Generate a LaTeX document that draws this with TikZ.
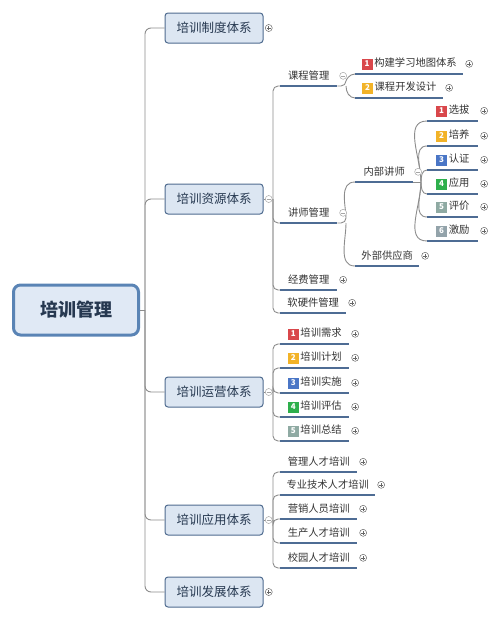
\documentclass[tikz,border=0pt]{standalone}
\usepackage{fontspec}
\setmainfont{Noto Sans CJK SC}
\usepackage{tikz}
\usetikzlibrary{positioning}

\definecolor{fondRacine}{HTML}{E0E9F5}
\definecolor{bordRacine}{HTML}{5A84B5}
\definecolor{fondNoeud}{HTML}{DCE6F2}
\definecolor{bordNoeud}{HTML}{4F6B8F}
\definecolor{texteNoeud}{HTML}{263850}
\definecolor{liens}{HTML}{8C8C8C}
\definecolor{souligne}{HTML}{4E6C94}
\definecolor{rouge}{HTML}{D9474B}
\definecolor{jaune}{HTML}{F2B328}
\definecolor{bleu}{HTML}{4A76C6}
\definecolor{vert}{HTML}{2EAF4C}
\definecolor{gris}{HTML}{8FAAA3}
\definecolor{ardoise}{HTML}{93A3AA}

\newcommand{\pastille}[2]{{\setlength{\fboxsep}{1.5pt}\colorbox{#1}{\rule[-1.5pt]{0pt}{7.5pt}\makebox[8pt]{\fontsize{8}{8}\selectfont\bfseries\color{white}#2}}}}

\begin{document}
\begin{tikzpicture}[x=1pt,y=-1pt]
	\tikzstyle{racine}=[rectangle,draw=bordRacine,line width=3pt,fill=fondRacine,
	rounded corners=7pt,minimum width=125pt,minimum height=50pt,text=texteNoeud,
	font=\fontsize{18}{20}\selectfont\bfseries]
	\tikzstyle{systeme}=[rectangle,draw=bordNoeud,line width=1pt,fill=fondNoeud,
	rounded corners=3pt,minimum width=98pt,minimum height=30pt,text=texteNoeud,
	font=\fontsize{12.5}{14}\selectfont]
	\tikzstyle{sujet}=[anchor=south west,inner xsep=0pt,inner ysep=3pt,
	minimum height=20pt,text=black!80,font=\fontsize{10.3}{12}\selectfont]
	\tikzstyle{plus}=[circle,draw=black!60,fill=white,inner sep=0pt,minimum size=7pt,
	line width=0.5pt,path picture={\draw[black!60,line width=0.6pt]
	([xshift=-2pt]path picture bounding box.center) -- ([xshift=2pt]path picture bounding box.center)
	([yshift=-2pt]path picture bounding box.center) -- ([yshift=2pt]path picture bounding box.center);}]
	\tikzstyle{moins}=[circle,draw=black!35,fill=white,inner sep=0pt,minimum size=7pt,
	line width=0.5pt,path picture={\draw[black!35,line width=0.6pt]
	([xshift=-2pt]path picture bounding box.center) -- ([xshift=2pt]path picture bounding box.center);}]

	\useasboundingbox (0,0) rectangle (500,621);

	\node[racine] (root) at (76,310) {培训管理};

	\node[systeme] (s1) at (214,28) {培训制度体系};
	\node[systeme] (s2) at (214,199) {培训资源体系};
	\node[systeme] (s3) at (214,392) {培训运营体系};
	\node[systeme] (s4) at (214,520) {培训应用体系};
	\node[systeme] (s5) at (214,592) {培训发展体系};

	% ressources
	\node[sujet,minimum width=57pt] (r1) at (280,86) {课程管理};
	\node[sujet,minimum width=57pt] (r2) at (280,223) {讲师管理};
	\node[sujet,minimum width=57pt] (r3) at (280,290) {经费管理};
	\node[sujet,minimum width=66pt] (r4) at (280,313) {软硬件管理};
	\node[sujet,minimum width=108pt] (c1) at (355,74) {\pastille{rouge}{1}\,构建学习地图体系};
	\node[sujet,minimum width=88pt] (c2) at (355,98) {\pastille{jaune}{2}\,课程开发设计};
	\node[sujet,minimum width=58pt] (t1) at (355,182) {内部讲师};
	\node[sujet,minimum width=64pt] (t2) at (355,266) {外部供应商};
	\node[sujet,minimum width=51pt] (i1) at (427,121) {\pastille{rouge}{1}\,选拔};
	\node[sujet,minimum width=51pt] (i2) at (427,146) {\pastille{jaune}{2}\,培养};
	\node[sujet,minimum width=51pt] (i3) at (427,170) {\pastille{bleu}{3}\,认证};
	\node[sujet,minimum width=51pt] (i4) at (427,194) {\pastille{vert}{4}\,应用};
	\node[sujet,minimum width=51pt] (i5) at (427,217) {\pastille{gris}{5}\,评价};
	\node[sujet,minimum width=51pt] (i6) at (427,241) {\pastille{ardoise}{6}\,激励};

	% operations
	\node[sujet,minimum width=69pt] (o1) at (280,344) {\pastille{rouge}{1}\,培训需求};
	\node[sujet,minimum width=69pt] (o2) at (280,368) {\pastille{jaune}{2}\,培训计划};
	\node[sujet,minimum width=69pt] (o3) at (280,393) {\pastille{bleu}{3}\,培训实施};
	\node[sujet,minimum width=69pt] (o4) at (280,417) {\pastille{vert}{4}\,培训评估};
	\node[sujet,minimum width=69pt] (o5) at (280,441) {\pastille{gris}{5}\,培训总结};

	% application
	\node[sujet,minimum width=77pt] (a1) at (280,472) {管理人才培训};
	\node[sujet,minimum width=95pt] (a2) at (280,495) {专业技术人才培训};
	\node[sujet,minimum width=77pt] (a3) at (280,519) {营销人员培训};
	\node[sujet,minimum width=77pt] (a4) at (280,543) {生产人才培训};
	\node[sujet,minimum width=77pt] (a5) at (280,568) {校园人才培训};

	\coordinate (hub) at (145,310);
	\coordinate (busR) at (273,199);
	\coordinate (busO) at (273,392);
	\coordinate (busA) at (273,520);
	\coordinate (forkC) at (346,86);
	\coordinate (forkT) at (346,223);
	\coordinate (forkI) at (421,182);

	\tikzstyle{lien}=[draw=liens,line width=0.9pt,rounded corners=5pt]
	\tikzstyle{trait}=[draw=souligne,line width=2pt]

	\draw[lien] (root.east) -- (hub);
	\draw[lien,rounded corners=6pt] (hub) |- (s1.west);
	\draw[lien,rounded corners=6pt] (hub) |- (s2.west);
	\draw[lien,rounded corners=6pt] (hub) |- (s3.west);
	\draw[lien,rounded corners=6pt] (hub) |- (s4.west);
	\draw[lien,rounded corners=6pt] (hub) |- (s5.west);

	\draw[lien] (s2.east) -- (busR);
	\draw[lien] (busR) |- (r1.south west);
	\draw[lien] (busR) |- (r2.south west);
	\draw[lien] (busR) |- (r3.south west);
	\draw[lien] (busR) |- (r4.south west);
	\draw[lien] (r1.south east) -- (forkC) to[out=90,in=180] (c1.south west);
	\draw[lien] (forkC) to[out=-90,in=180] (c2.south west);
	\draw[lien] (r2.south east) -- (forkT) to[out=90,in=180] (t1.south west);
	\draw[lien] (forkT) to[out=-90,in=180] (t2.south west);
	\draw[lien] (t1.south east) -- (forkI);
	\draw[lien] (forkI) to[out=90,in=180] (i1.south west);
	\draw[lien] (forkI) to[out=90,in=180] (i2.south west);
	\draw[lien] (forkI) to[out=90,in=180] (i3.south west);
	\draw[lien] (forkI) to[out=-90,in=180] (i4.south west);
	\draw[lien] (forkI) to[out=-90,in=180] (i5.south west);
	\draw[lien] (forkI) to[out=-90,in=180] (i6.south west);

	\draw[lien] (s3.east) -- (busO);
	\draw[lien] (busO) |- (o1.south west);
	\draw[lien] (busO) |- (o2.south west);
	\draw[lien] (busO) |- (o3.south west);
	\draw[lien] (busO) |- (o4.south west);
	\draw[lien] (busO) |- (o5.south west);

	\draw[lien] (s4.east) -- (busA);
	\draw[lien] (busA) |- (a1.south west);
	\draw[lien] (busA) |- (a2.south west);
	\draw[lien] (busA) |- (a3.south west);
	\draw[lien] (busA) |- (a4.south west);
	\draw[lien] (busA) |- (a5.south west);

	\foreach \n in {r1,r2,r3,r4,c1,c2,t1,t2,i1,i2,i3,i4,i5,i6,o1,o2,o3,o4,o5,a1,a2,a3,a4,a5}
		\draw[trait] (\n.south west) -- (\n.south east);

	% boutons
	\node[plus,right=1.5pt of s1] (ps1) {};
	\node[moins,right=1.5pt of s2] (ms2) {};
	\node[moins,right=1.5pt of s3] (ms3) {};
	\node[moins,right=1.5pt of s4] (ms4) {};
	\node[plus,right=1.5pt of s5] (ps5) {};
	\node[moins,right=2pt of r1] (mr1) {};
	\node[moins,right=2pt of r2] (mr2) {};
	\node[plus,right=2pt of r3] (pr3) {};
	\node[plus,right=2pt of r4] (pr4) {};
	\node[plus,right=2pt of c1] (pc1) {};
	\node[plus,right=2pt of c2] (pc2) {};
	\node[moins,right=1pt of t1] (mt1) {};
	\node[plus,right=2pt of t2] (pt2) {};
	\foreach \n in {i1,i2,i3,i4,i5,i6,o1,o2,o3,o4,o5,a1,a2,a3,a4,a5}
		\node[plus,right=2pt of \n] (p\n) {};
\end{tikzpicture}
\end{document}
